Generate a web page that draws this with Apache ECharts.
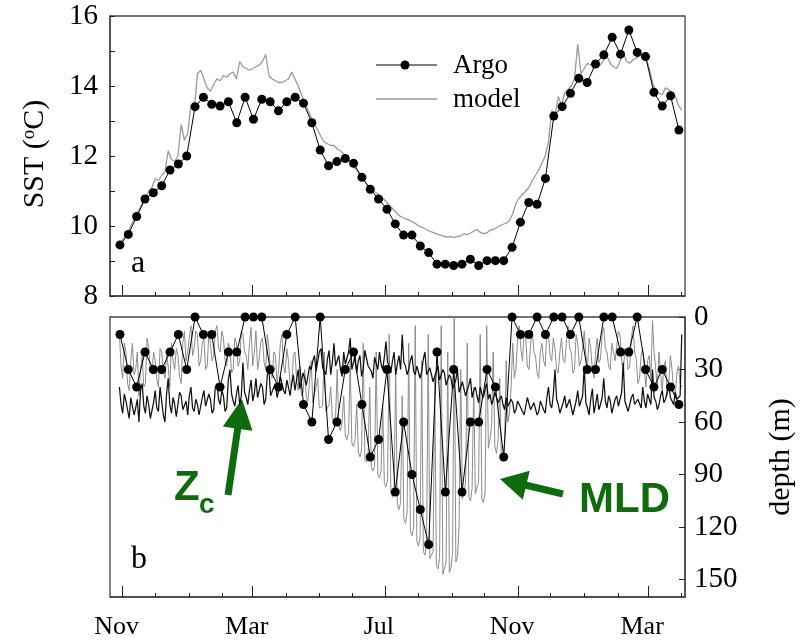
<!DOCTYPE html>
<html><head><meta charset="utf-8">
<script src="https://cdn.jsdelivr.net/npm/echarts@6/dist/echarts.min.js"></script>
<style>html,body{margin:0;padding:0;background:#fff}#c{width:802px;height:642px}</style>
</head><body><div id="c"></div>
<script>
// ---------- DATA ----------
// x axis: days since 1 Nov (year 1)
const monthTickLabels = ['Nov','Mar','Jul','Nov','Mar'];
const monthLabelDays  = [0,120,242,365,485];
const monthStartDays  = [0,30,61,92,120,151,181,212,242,273,304,334,365,395,426,457,485,516];
const sstTicks   = [8,10,12,14,16];
const depthTicks = [0,30,60,90,120,150];
const legendNames = ['Argo','model'];

// Argo profiles (regular sampling)
const argoStartDay = -2.5, argoStepDays = 7.7;
const argoSST = [9.46,9.76,10.27,10.77,10.95,11.15,11.6,11.77,12.0,13.41,
  13.68,13.48,13.43,13.55,12.95,13.68,13.05,13.62,13.55,13.29,
  13.55,13.68,13.51,12.95,12.17,11.72,11.84,11.93,11.79,11.39,
  11.05,10.77,10.48,10.06,9.74,9.74,9.43,9.24,8.91,8.91,
  8.87,8.91,9.05,8.87,9.01,9.01,9.01,9.39,10.11,10.67,
  10.62,11.36,13.14,13.41,13.79,14.22,14.1,14.63,14.89,15.39,
  14.91,15.6,14.96,14.84,13.82,13.43,13.72,12.74];
const argoMLD = [10,30,40,20,30,30,20,10,30,0,
  10,10,40,20,20,0,0,0,30,40,
  10,0,50,60,0,70,60,30,20,50,
  80,70,30,100,60,90,110,130,20,100,
  30,100,60,60,30,40,80,0,10,10,
  0,10,0,0,10,0,30,30,0,0,
  20,20,0,30,40,30,40,50];

// Model SST (every 3 days)
const modelSSTStartDay = -3, modelSSTStepDays = 3;
const modelSST = [9.45,9.6,9.75,9.9,10.1,10.3,10.45,10.65,10.8,11.0,
  11.1,11.35,11.3,11.45,11.55,12.15,11.9,11.85,12.0,12.9,
  12.45,12.65,13.45,13.3,14.35,14.45,14.2,13.95,13.85,14.05,
  14.2,14.15,14.3,14.25,14.35,14.4,14.2,14.7,14.55,14.5,
  14.45,14.5,14.55,14.6,14.7,14.9,14.3,14.2,14.15,14.1,
  14.1,14.15,14.2,14.4,14.2,14.0,13.75,13.55,13.3,13.1,
  12.9,12.75,12.55,12.4,12.35,12.3,12.3,12.2,12.15,12.05,
  11.95,11.85,11.7,11.6,11.45,11.35,11.2,11.1,11.0,10.95,
  10.88,10.8,10.7,10.6,10.5,10.4,10.3,10.25,10.2,10.18,
  10.12,10.08,10.0,9.97,9.92,9.87,9.83,9.8,9.76,9.73,
  9.7,9.68,9.7,9.67,9.7,9.72,9.78,9.75,9.8,9.85,
  9.9,9.82,9.78,9.8,9.88,9.9,9.95,10.0,10.05,10.08,
  10.15,10.35,10.65,10.8,10.9,11.0,11.1,11.3,11.45,11.6,
  11.8,12.0,12.4,13.3,13.15,13.7,13.45,13.8,13.9,14.0,
  14.2,15.2,14.35,14.5,14.65,14.6,14.7,14.55,14.6,14.75,
  14.85,14.65,14.55,14.5,14.7,14.95,14.7,14.65,14.75,14.8,
  14.85,14.9,14.8,14.5,14.1,13.85,13.8,13.75,13.95,13.9,
  13.8,13.7,13.45,13.3];

// Model mixed-layer depth and Zc (every 1.5 days)
const modelDepthStartDay = -3, modelDepthStepDays = 1.5;
const modelMLD = [
  10,28, 35,15, 20,38, 42,25, 15,33, 30,20, 45,30, 22,40, 38,12, 18,30,
  32,20, 25,36, 40,18, 20,30, 35,22, 28,40, 15,25, 30,18, 22,34, 38,15,
  8,25, 20,12, 5,22, 18,8, 10,28, 25,15, 12,30, 28,10, 15,25, 22,8,
  5,18, 20,8, 12,25, 28,15, 18,32, 30,12, 15,28, 25,8, 10,20, 22,30,
  15,6, 28,20, 8,30, 24,14, 12,26, 30,10, 18,32, 35,20, 22,38, 30,15,
  10,28, 32,18, 25,38, 40,22, 20,35, 42,28,
  45,43, 30,46, 48,47, 25,49, 50,40, 35,52, 53,51, 20,54, 55,50, 40,58,
  60,57, 30,62, 65,60, 45,68, 70,66, 25,72, 74,70, 50,77, 80,76, 15,81,
  83,80, 40,86, 88,85, 20,90, 92,88, 50,95, 97,93, 10,100, 103,98, 30,107,
  110,106, 45,115, 118,112, 15,122, 125,120, 5,128, 131,126, 25,134, 136,130, 10,138,
  139,134, 35,142, 144,138, 5,147, 148,140, 20,146, 143,135, 0,140, 137,120, 30,104,
  100,95, 15,103, 105,98, 40,101, 102,94, 10,104, 106,100, 5,75, 70,62, 20,74,
  78,70, 35,82, 80,72, 25,60, 55,40, 15,35, 30,12,
  5,18, 25,10, 12,28, 30,15, 8,20, 22,32, 35,20, 15,25, 28,8, 10,22,
  25,12, 18,30, 32,20, 12,24, 26,15, 5,18, 20,32, 30,10, 15,28, 25,18,
  8,22, 28,12, 18,30, 35,20, 12,26, 24,10, 6,18, 20,28, 30,15, 14,25,
  26,8, 10,24, 32,18, 20,30, 28,12, 5,20, 24,38, 35,22, 18,30, 40,25,
  22,35, 2,20, 30,40, 20,32, 42,28, 25,45, 38,22, 30,42, 45,32, 28,38,
  40];
const modelZc = [
  40,50, 55,44, 48,53, 58,46, 45,56, 52,47, 60,42, 38,51, 55,45, 50,58,
  57,49, 42,52, 54,40, 48,56, 60,44, 35,50, 55,46, 50,57, 58,43, 45,53,
  52,48, 56,45, 40,52, 54,47, 50,56,
  55,46, 42,51, 50,44, 47,55, 53,40,
  38,47, 50,42, 45,54, 52,36, 30,44, 48,51, 44,39, 50,45, 26,43, 46,50,
  42,36, 48,44, 35,46, 45,38, 40,50, 47,33, 30,45, 44,40, 38,46, 42,34,
  35,42, 44,36, 40,45,
  38,33, 42,36, 30,41, 40,32, 35,39, 38,28,
  30,25, 22,31, 32,20, 18,29, 28,33, 24,19, 33,26, 15,28, 27,22, 30,34, 20,27,
  28,20, 12,30, 26,22, 32,25, 22,34, 30,19, 18,28, 27,31, 35,23, 24,30,
  20,27, 30,23, 14,26, 28,32, 25,20, 33,27, 22,30,
  10,26, 28,33, 30,25, 22,31, 33,28, 27,35, 31,24, 20,33, 34,29, 30,37, 36,31, 28,36, 35,30, 32,39, 38,33,
  35,41, 40,36, 30,43, 42,37, 38,45, 44,39, 35,46, 42,40, 45,49, 40,44, 46,41, 38,47, 44,50, 47,43, 42,49, 48,45,
  50,53, 46,51, 52,47, 49,55, 53,48, 48,52, 51,56, 55,46, 47,53, 52,49, 50,56, 54,48,
  48,53, 55,46, 40,50, 52,44, 30,47, 50,55, 56,49, 45,52, 53,47, 48,56,
  57,48, 42,51, 50,45, 28,49, 52,56, 47,41, 55,50, 44,53, 50,46, 35,48,
  52,45, 48,55, 54,47, 45,51, 50,43, 26,48, 49,54, 53,46, 44,50, 51,47,
  47,52, 40,48, 52,44, 45,50, 30,46, 48,53, 50,45, 42,49, 47,43, 38,46,
  46,50, 43,47, 48,45, 10];

// ---------- CHART ----------
const FONT = '"Liberation Serif","Times New Roman",serif';
const SANS = '"Liberation Sans",Arial,sans-serif';
const GREEN = '#0e6b0e';
const AX = '#444';
const xMin = -11.7, xMax = 519;

function toXY(start, step, vals){ return vals.map((v,i)=>[start+i*step, v]); }
function arrowPts(tail, tip, sw, hw, hl){
  const dx=tip[0]-tail[0], dy=tip[1]-tail[1], L=Math.hypot(dx,dy);
  const ux=dx/L, uy=dy/L, nx=-uy, ny=ux;
  const bx=tip[0]-ux*hl, by=tip[1]-uy*hl;
  return [[tail[0]+nx*sw/2,tail[1]+ny*sw/2],[bx+nx*sw/2,by+ny*sw/2],[bx+nx*hw/2,by+ny*hw/2],
          tip,[bx-nx*hw/2,by-ny*hw/2],[bx-nx*sw/2,by-ny*sw/2],[tail[0]-nx*sw/2,tail[1]-ny*sw/2]];
}

function mainX(grid, showLabels){
  return {gridIndex:grid, type:'value', min:xMin, max:xMax, position:'bottom',
    axisLine:{show:true, onZero:false, lineStyle:{color:AX, width:1.5}},
    axisTick:{show:true, inside:true, length:11, customValues:monthLabelDays, lineStyle:{color:'#222', width:1}},
    axisLabel:{show:showLabels, customValues:monthLabelDays, margin:17, fontSize:26, fontFamily:FONT, color:'#000',
      padding:[0,12,0,0],
      formatter:(v)=>monthTickLabels[monthLabelDays.indexOf(Math.round(v))] || ''},
    splitLine:{show:false}};
}
function minorX(grid){
  return {gridIndex:grid, type:'value', min:xMin, max:xMax, position:'bottom',
    axisLine:{show:false, onZero:false}, axisLabel:{show:false}, splitLine:{show:false},
    axisTick:{show:true, inside:true, length:4, customValues:monthStartDays, lineStyle:{color:'#222', width:1}}};
}

const option = {
  animation:false,
  backgroundColor:'#fff',
  grid:[
    {left:110, top:16, width:575, height:280, show:true, borderColor:AX, borderWidth:1.3, containLabel:false},
    {left:110, top:317, width:575, height:280, show:true, borderColor:AX, borderWidth:1.3, containLabel:false}
  ],
  xAxis:[mainX(0,false), mainX(1,true), minorX(0), minorX(1)],
  yAxis:[
    {gridIndex:0, type:'value', min:8, max:16, interval:1, position:'left',
      axisLine:{show:true, onZero:false, lineStyle:{color:AX, width:1.5}},
      axisTick:{show:true, inside:true, length:5, lineStyle:{color:'#222'}},
      axisLabel:{margin:12, fontSize:29, fontFamily:FONT, color:'#000',
        formatter:(v)=> sstTicks.indexOf(v)>=0 ? String(v) : ''},
      splitLine:{show:false}},
    {gridIndex:1, type:'value', min:0, max:160, inverse:true, position:'right',
      axisLine:{show:true, onZero:false, lineStyle:{color:AX, width:1.5}},
      axisTick:{show:true, inside:true, length:6, customValues:depthTicks, lineStyle:{color:'#222'}},
      axisLabel:{customValues:depthTicks, margin:9, fontSize:29, fontFamily:FONT, color:'#000'},
      splitLine:{show:false}}
  ],
  series:[
    {name:'model', type:'line', xAxisIndex:0, yAxisIndex:0, symbol:'none',
      data:toXY(modelSSTStartDay, modelSSTStepDays, modelSST),
      lineStyle:{color:'#999', width:1.3}},
    {name:'Argo', type:'line', xAxisIndex:0, yAxisIndex:0, symbol:'circle', symbolSize:9,
      data:toXY(argoStartDay, argoStepDays, argoSST),
      lineStyle:{color:'#000', width:1}, itemStyle:{color:'#000'}},
    {name:'model MLD', type:'line', xAxisIndex:1, yAxisIndex:1, symbol:'none',
      data:toXY(modelDepthStartDay, modelDepthStepDays, modelMLD),
      lineStyle:{color:'#8c8c8c', width:1}},
    {name:'Zc', type:'line', xAxisIndex:1, yAxisIndex:1, symbol:'none',
      data:toXY(modelDepthStartDay, modelDepthStepDays, modelZc),
      lineStyle:{color:'#111', width:1.25}},
    {name:'Argo MLD', type:'line', xAxisIndex:1, yAxisIndex:1, symbol:'circle', symbolSize:9, clip:false,
      data:toXY(argoStartDay, argoStepDays, argoMLD),
      lineStyle:{color:'#000', width:1}, itemStyle:{color:'#000'}}
  ],
  graphic:[
    // legend
    {type:'line', shape:{x1:376,y1:65,x2:437,y2:65}, style:{stroke:'#000', lineWidth:1}},
    {type:'circle', shape:{cx:405, cy:65, r:4.5}, style:{fill:'#000'}},
    {type:'text', x:453, y:66, style:{text:legendNames[0], fontSize:27, fontFamily:FONT, fill:'#000', verticalAlign:'middle'}},
    {type:'line', shape:{x1:376,y1:99,x2:437,y2:99}, style:{stroke:'#999', lineWidth:1.3}},
    {type:'text', x:453, y:100, style:{text:legendNames[1], fontSize:27, fontFamily:FONT, fill:'#000', verticalAlign:'middle'}},
    // panel letters and axis titles
    {type:'text', x:131, y:248, style:{text:'a', fontSize:32, fontFamily:FONT, fill:'#000'}},
    {type:'text', x:131, y:544, style:{text:'b', fontSize:32, fontFamily:FONT, fill:'#000'}},
    {type:'text', x:35, y:154, rotation:Math.PI/2,
      style:{text:'SST ({s|o}C)', fontSize:30, fontFamily:FONT, fill:'#000', align:'center', verticalAlign:'middle',
        rich:{s:{fontSize:19, fontFamily:FONT, verticalAlign:'top', padding:[0,0,10,0]}}}},
    {type:'text', x:781, y:457, rotation:Math.PI/2,
      style:{text:'depth (m)', fontSize:30, fontFamily:FONT, fill:'#000', align:'center', verticalAlign:'middle'}},
    // green annotations
    {type:'polygon', shape:{points:arrowPts([228,495],[242,399],7,30,30)}, style:{fill:GREEN}},
    {type:'polygon', shape:{points:arrowPts([563,494],[500,479],7,30,27)}, style:{fill:GREEN}},
    {type:'text', x:174, y:488, style:{text:'Z', fontSize:42, fontWeight:'bold', fontFamily:SANS, fill:GREEN, verticalAlign:'middle'}},
    {type:'text', x:199, y:505, style:{text:'c', fontSize:28, fontWeight:'bold', fontFamily:SANS, fill:GREEN, verticalAlign:'middle'}},
    {type:'text', x:579, y:500, style:{text:'MLD', fontSize:42, fontWeight:'bold', fontFamily:SANS, fill:GREEN, verticalAlign:'middle'}}
  ]
};
const chart = echarts.init(document.getElementById('c'));
chart.setOption(option);
</script>
</body></html>
